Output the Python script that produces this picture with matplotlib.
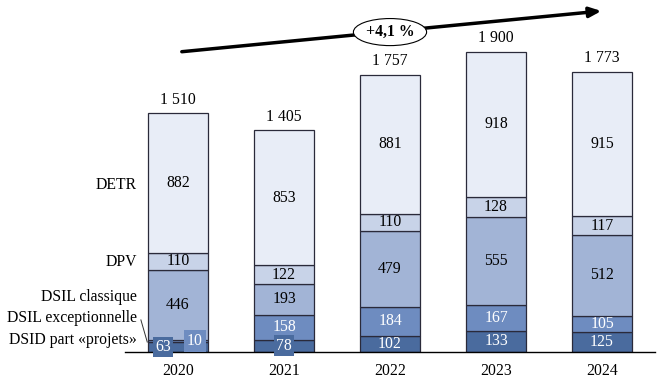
#!/usr/bin/env python3

import matplotlib.pyplot as plt
import numpy as np

plt.rcParams['font.family'] = ['Liberation Serif', 'DejaVu Serif']

years = ['2020', '2021', '2022', '2023', '2024']
dsid = [63, 78, 102, 133, 125]
dsil_exc = [10, 158, 184, 167, 105]
dsil_cl = [446, 193, 479, 555, 512]
dpv = [110, 122, 110, 128, 117]
detr = [882, 853, 881, 918, 915]
totals = ['1 510', '1 405', '1 757', '1 900', '1 773']

series = [
    ('DSID part «projets»', dsid, '#4a6b9e', 'white'),
    ('DSIL exceptionnelle', dsil_exc, '#6e8cc0', 'white'),
    ('DSIL classique', dsil_cl, '#a2b4d6', 'black'),
    ('DPV', dpv, '#c8d3e8', 'black'),
    ('DETR', detr, '#e8edf7', 'black'),
]
FS = 11.3

fig = plt.figure(figsize=(6.63, 3.88), dpi=100)
ax = fig.add_axes([125 / 663, 36 / 388, 530 / 663, 352 / 388])

x = np.arange(len(years))
bottom = np.zeros(len(years))
for name, vals, color, tcol in series:
    vals = np.array(vals, dtype=float)
    ax.bar(x, vals, 0.566, bottom=bottom, color=color,
           edgecolor='#2a2a3a', linewidth=0.9, zorder=2)
    for i, v in enumerate(vals):
        cy = bottom[i] + v / 2
        cx = x[i]
        box = None
        if name == 'DSID part «projets»' and i < 2:
            if i == 0:
                cx = x[i] - 0.14
            box = dict(boxstyle='square,pad=0.15', fc=color, ec='none')
        if name == 'DSIL exceptionnelle' and i == 0:
            cx = x[i] + 0.16
            box = dict(boxstyle='square,pad=0.2', fc=color, ec='none')
        ax.text(cx, cy, f'{int(v)}', ha='center', va='center',
                color=tcol, fontsize=FS, bbox=box, zorder=4)
    bottom += vals

for i, t in enumerate(totals):
    ax.annotate(t, (x[i], bottom[i]), xytext=(0, 4), textcoords='offset points',
                ha='center', va='bottom', fontsize=FS)

# labels on the left
lab_x = -0.39
lab_y = [76, 215, 348, 570, 1057]
for (name, _, _, _), ly in zip(series, lab_y):
    ax.text(lab_x, ly, name, ha='right', va='center', fontsize=FS)
ax.plot([-0.35, -0.29], [203, 63], color='#333333', lw=0.7, clip_on=False)

# trend arrow
ax.annotate('', xy=(4.02, 2160), xytext=(0.01, 1899),
            arrowprops=dict(arrowstyle='-|>,head_length=0.7,head_width=0.3',
                            color='black', lw=2.5))
ax.text(2.0, 2025, '+4,1 %', ha='center', va='center', fontsize=FS,
        fontweight='bold',
        bbox=dict(boxstyle='ellipse,pad=0.1', fc='white', ec='black', lw=0.8))

ax.set_xlim(-0.5, 4.5)
ax.set_ylim(0, 2228)
ax.set_xticks(x)
ax.set_xticklabels(years, fontsize=FS)
ax.tick_params(length=0, pad=8)
ax.set_yticks([])
for s in ['left', 'right', 'top']:
    ax.spines[s].set_visible(False)
ax.spines['bottom'].set_linewidth(1.0)

fig.savefig('out.png', dpi=100)
